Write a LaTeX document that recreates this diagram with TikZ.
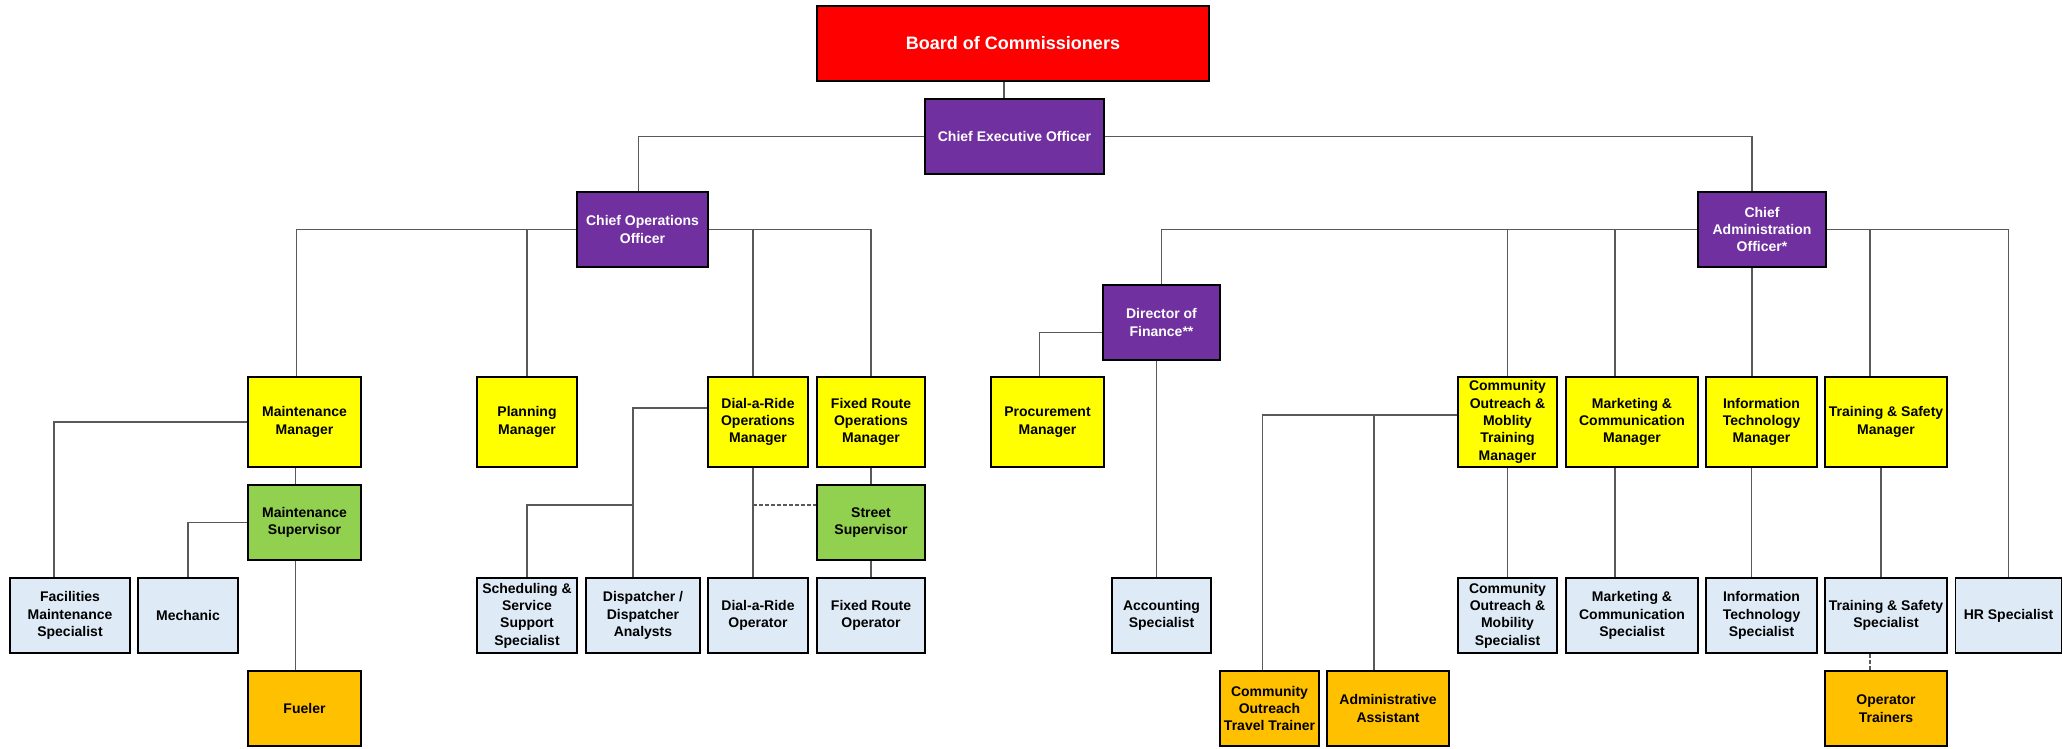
\documentclass[tikz,border=0pt]{standalone}
\usepackage{fontspec}
\setmainfont{Liberation Sans}
\usetikzlibrary{calc,positioning}
\definecolor{ink}{HTML}{000000}
\definecolor{wire}{HTML}{595959}
\definecolor{boardfill}{HTML}{FF0000}
\definecolor{execfill}{HTML}{7030A0}
\definecolor{mgrfill}{HTML}{FFFF00}
\definecolor{supfill}{HTML}{92D050}
\definecolor{specfill}{HTML}{DEEBF7}
\definecolor{auxfill}{HTML}{FFC000}
\newcommand{\fourteen}{\fontsize{14}{17.4}\selectfont}
\newcommand{\eighteen}{\fontsize{18}{21}\selectfont}
\tikzset{
 every node/.append style={font=\fourteen\bfseries,text=ink,align=center},
 box/.style={draw=black,line width=1.2pt,inner xsep=2pt,inner ysep=1pt,minimum height=75pt},
 board/.style={box,fill=boardfill,text=white,font=\eighteen\bfseries},
 exec/.style={box,fill=execfill,text=white},
 mgr/.style={box,fill=mgrfill,minimum height=90pt},
 sup/.style={box,fill=supfill},
 spec/.style={box,fill=specfill},
 aux/.style={box,fill=auxfill},
 link/.style={draw=wire,line width=1.1pt},
 tie/.style={link,dash pattern=on 4pt off 2pt},
}

\begin{document}
\begin{tikzpicture}[x=1pt,y=-1pt]

\useasboundingbox (0,0) rectangle (2063,749);
\node[board,minimum width=392pt] (board) at (1013,43.5) {Board of Commissioners};
\node[exec,minimum width=179pt] (ceo) at (1014.5,136.5) {Chief Executive Officer};
\node[exec,minimum width=131pt] (coo) at (642.5,229.5) {Chief Operations\\Officer};
\node[exec,minimum width=128pt] (cao) at (1762,229.5) {Chief\\Administration\\Officer*};
\node[exec,minimum width=117pt] (dof) at (1161.5,322.5) {Director of\\Finance**};
\node[mgr,minimum width=113pt] (mmgr) at (304.5,422) {Maintenance\\Manager};
\node[mgr,minimum width=100pt] (pmgr) at (527,422) {Planning\\Manager};
\node[mgr,minimum width=100pt] (darmgr) at (758,422) {Dial-a-Ride\\Operations\\Manager};
\node[mgr,minimum width=108pt] (frmgr) at (871,422) {Fixed Route\\Operations\\Manager};
\node[mgr,minimum width=113pt] (procmgr) at (1047.5,422) {Procurement\\Manager};
\node[mgr,minimum width=99pt] (comgr) at (1507.5,422) {Community\\Outreach \&\\Moblity\\Training\\Manager};
\node[mgr,minimum width=132pt] (mktmgr) at (1632,422) {Marketing \&\\Communication\\Manager};
\node[mgr,minimum width=111pt] (itmgr) at (1761.5,422) {Information\\Technology\\Manager};
\node[mgr,minimum width=122pt] (tsmgr) at (1886,422) {Training \& Safety\\Manager};
\node[sup,minimum width=113pt] (msup) at (304.5,522.5) {Maintenance\\Supervisor};
\node[sup,minimum width=108pt] (ssup) at (871,522.5) {Street\\Supervisor};
\node[spec,minimum width=120pt] (fms) at (70,615.5) {Facilities\\Maintenance\\Specialist};
\node[spec,minimum width=100pt] (mech) at (188,615.5) {Mechanic};
\node[spec,minimum width=100pt] (sched) at (527,615.5) {Scheduling \&\\Service\\Support\\Specialist};
\node[spec,minimum width=114pt] (disp) at (643,615.5) {Dispatcher /\\Dispatcher\\Analysts};
\node[spec,minimum width=100pt] (daro) at (758,615.5) {Dial-a-Ride\\Operator};
\node[spec,minimum width=108pt] (fro) at (871,615.5) {Fixed Route\\Operator};
\node[spec,minimum width=99pt] (acct) at (1161.5,615.5) {Accounting\\Specialist};
\node[spec,minimum width=99pt] (cos) at (1507.5,615.5) {Community\\Outreach \&\\Mobility\\Specialist};
\node[spec,minimum width=132pt] (mkts) at (1632,615.5) {Marketing \&\\Communication\\Specialist};
\node[spec,minimum width=111pt] (its) at (1761.5,615.5) {Information\\Technology\\Specialist};
\node[spec,minimum width=122pt] (tss) at (1886,615.5) {Training \& Safety\\Specialist};
\node[spec,minimum width=106pt] (hrs) at (2008.5,615.5) {HR Specialist};
\node[aux,minimum width=113pt] (fuel) at (304.5,708.5) {Fueler};
\node[aux,minimum width=99pt] (cott) at (1269.5,708.5) {Community\\Outreach\\Travel Trainer};
\node[aux,minimum width=122pt] (aa) at (1388,708.5) {Administrative\\Assistant};
\node[aux,minimum width=122pt] (opt) at (1886,708.5) {Operator\\Trainers};
\coordinate (dsplit) at (633,505);
\draw[link] ([xshift=-9pt]board.south) -- ([xshift=-9pt]board.south |- ceo.north);
\draw[link] (ceo.west) -| ([xshift=-4pt]coo.north);
\draw[link] (ceo.east) -| ([xshift=-10pt]cao.north);
\draw[link] (coo.west) -| ([xshift=-8pt]mmgr.north);
\draw[link] (coo.west) -| (pmgr.north);
\draw[link] (coo.east) -| ([xshift=-5pt]darmgr.north);
\draw[link] (coo.east) -| (frmgr.north);
\draw[link] (mmgr.west) -| ([xshift=-16pt]fms.north);
\draw[link] ([xshift=-9pt]mmgr.south) -- ([xshift=-9pt]msup.north);
\draw[link] (msup.west) -| (mech.north);
\draw[link] ([xshift=-9pt]msup.south) -- ([xshift=-9pt]fuel.north);
\draw[link] ([yshift=14pt]darmgr.west) -| ([xshift=-10pt]disp.north);
\draw[link] (sched.north) |- (dsplit);
\draw[link] ([xshift=-5pt]darmgr.south) -- ([xshift=-5pt]daro.north);
\draw[tie] ([xshift=-5pt]darmgr.south |- dsplit) -- (ssup.west |- dsplit);
\draw[link] (frmgr.south) -- (ssup.north);
\draw[link] (ssup.south) -- (fro.north);
\draw[link] (cao.west) -| (dof.north);
\draw[link] (cao.west) -| (comgr.north);
\draw[link] (cao.west) -| ([xshift=-17pt]mktmgr.north);
\draw[link] ([xshift=-10pt]cao.south) -- ([xshift=-10pt]cao.south |- itmgr.north);
\draw[link] (cao.east) -| ([xshift=-16pt]tsmgr.north);
\draw[link] (cao.east) -| (hrs.north);
\draw[link] ([yshift=-10pt]dof.west) -| ([xshift=-8pt]procmgr.north);
\draw[link] ([xshift=-5pt]dof.south) -- ([xshift=-5pt]acct.north);
\draw[link] ([yshift=7pt]comgr.west) -| ([xshift=-7pt]cott.north);
\draw[link] ([yshift=7pt]comgr.west) -| ([xshift=-14pt]aa.north);
\draw[link] (comgr.south) -- (cos.north);
\draw[link] ([xshift=-17pt]mktmgr.south) -- ([xshift=-17pt]mkts.north);
\draw[link] ([xshift=-10pt]itmgr.south) -- ([xshift=-10pt]its.north);
\draw[link] ([xshift=-5pt]tsmgr.south) -- ([xshift=-5pt]tss.north);
\draw[tie] ([xshift=-16pt]tss.south) -- ([xshift=-16pt]opt.north);

\end{tikzpicture}
\end{document}
